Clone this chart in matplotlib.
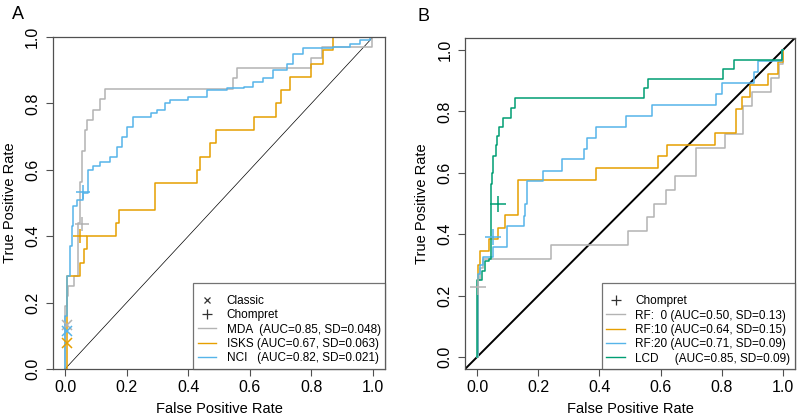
import matplotlib
matplotlib.use("Agg")
import matplotlib.pyplot as plt
from matplotlib.lines import Line2D

plt.rcParams['font.family'] = ['Liberation Sans', 'DejaVu Sans']

GREY = '#B3B3B3'
ORANGE = '#E69F00'
BLUE = '#56B4E9'
GREEN = '#009E73'
FRAME = '#505050'

# ---- panel A : ROC points (x where the curve rises, new TPR) ----
mda_fpr = [0, 0, 0.005, 0.01, 0.03, 0.042, 0.049, 0.056, 0.065, 0.072, 0.09, 0.114, 0.13,
           0.545, 0.558, 0.80, 0.834, 0.996, 1.0]
mda_tpr = [0, 0.19, 0.22, 0.25, 0.28, 0.44, 0.5625, 0.656, 0.72, 0.75, 0.78, 0.8125, 0.84375,
           0.875, 0.906, 0.9375, 0.969, 1.0, 1.0]

isks_fpr = [0, 0.005, 0.049, 0.06, 0.07, 0.166, 0.175, 0.292, 0.428, 0.438,
            0.47, 0.49, 0.615, 0.685, 0.70, 0.73, 0.80, 0.837, 0.87, 1.0]
isks_tpr = [0, 0.28, 0.32, 0.36, 0.40, 0.44, 0.48, 0.56, 0.60, 0.64,
            0.68, 0.72, 0.76, 0.80, 0.84, 0.88, 0.92, 0.96, 1.0, 1.0]

nci_fpr = [0, 0.0, 0.005, 0.016, 0.022, 0.027, 0.038, 0.058, 0.076, 0.09,
           0.114, 0.146, 0.168, 0.184, 0.20, 0.222, 0.28, 0.30, 0.325, 0.34,
           0.40, 0.46, 0.525, 0.58, 0.61, 0.644, 0.676, 0.72, 0.74, 0.774,
           0.87, 0.925, 0.958, 0.99, 1.0]
nci_tpr = [0, 0.16, 0.28, 0.37, 0.43, 0.49, 0.51, 0.53, 0.60, 0.61,
           0.624, 0.64, 0.67, 0.70, 0.73, 0.76, 0.77, 0.78, 0.80, 0.81,
           0.82, 0.84, 0.845, 0.85, 0.865, 0.878, 0.90, 0.92, 0.95, 0.966,
           0.97, 0.98, 0.99, 1.0, 1.0]

# classic / chompret criteria points (fpr, tpr)
classic_a = {'MDA': (0.005, 0.132), 'ISKS': (0.005, 0.079), 'NCI': (0.005, 0.115)}
chompret_a = {'MDA': (0.054, 0.438), 'ISKS': (0.05, 0.40), 'NCI': (0.058, 0.532)}

labels_a = ['MDA  (AUC=0.85, SD=0.048)', 'ISKS (AUC=0.67, SD=0.063)',
            'NCI   (AUC=0.82, SD=0.021)']

# ---- panel B ----
rf0_fpr = [0, 0.003, 0.01, 0.02, 0.242, 0.495, 0.555, 0.578, 0.617, 0.648,
           0.716, 0.81, 0.87, 0.898, 0.961, 0.987, 1.0]
rf0_tpr = [0, 0.25, 0.29, 0.318, 0.364, 0.409, 0.455, 0.50, 0.545, 0.591,
           0.682, 0.727, 0.818, 0.864, 0.909, 0.955, 1.0]

rf10_fpr = [0, 0.002, 0.01, 0.04, 0.068, 0.092, 0.135, 0.39, 0.593, 0.62,
            0.778, 0.846, 0.865, 0.892, 0.952, 0.983, 1.0, 1.0]
rf10_tpr = [0, 0.30, 0.346, 0.385, 0.42, 0.462, 0.577, 0.615, 0.654, 0.692,
            0.731, 0.808, 0.846, 0.885, 0.923, 0.962, 1.0, 1.0]

rf20_fpr = [0, 0.003, 0.01, 0.02, 0.053, 0.097, 0.154, 0.158, 0.162, 0.217,
            0.279, 0.35, 0.358, 0.388, 0.487, 0.571, 0.78, 0.80, 0.906, 0.92,
            0.996, 1.0]
rf20_tpr = [0, 0.27, 0.30, 0.327, 0.357, 0.428, 0.46, 0.50, 0.573, 0.607,
            0.644, 0.677, 0.714, 0.75, 0.786, 0.82, 0.857, 0.893, 0.929, 0.964,
            1.0, 1.0]

lcd_fpr = [0, 0.0, 0.015, 0.026, 0.04, 0.045, 0.048, 0.053, 0.061, 0.066,
           0.072, 0.086, 0.11, 0.124, 0.547, 0.558, 0.805, 0.841, 0.996, 1.0]
lcd_tpr = [0, 0.25, 0.281, 0.3125, 0.32, 0.5625, 0.60, 0.656, 0.69, 0.72,
           0.75, 0.78, 0.8125, 0.84375, 0.875, 0.906, 0.9375, 0.969, 1.0, 1.0]

chompret_b = {'RF0': (0.004, 0.229), 'RF20': (0.053, 0.392), 'LCD': (0.07, 0.50)}

labels_b = ['RF:  0 (AUC=0.50, SD=0.13)', 'RF:10 (AUC=0.64, SD=0.15)',
            'RF:20 (AUC=0.71, SD=0.09)', 'LCD     (AUC=0.85, SD=0.09)']


def style_axes(ax, xlim, ylim):
    ax.set_xlim(*xlim)
    ax.set_ylim(*ylim)
    ticks = [0, 0.2, 0.4, 0.6, 0.8, 1.0]
    ax.set_xticks(ticks)
    ax.set_yticks(ticks)
    ax.set_xticklabels(['%.1f' % t for t in ticks])
    ax.set_yticklabels(['%.1f' % t for t in ticks], rotation=90, va='center')
    ax.tick_params(direction='out', length=5, width=0.8, color=FRAME,
                   labelsize=11.5)
    ax.tick_params(axis='x', pad=3)
    ax.tick_params(axis='y', pad=4)
    for s in ax.spines.values():
        s.set_color(FRAME)
        s.set_linewidth(0.9)
    ax.set_xlabel('False Positive Rate', fontsize=10.5)
    ax.set_ylabel('True Positive Rate', fontsize=10.5)
    ax.xaxis.label.set_va('center')
    ax.yaxis.label.set_va('center')
    ax.yaxis.label.set_ha('center')


def make_legend(ax, handles, labels):
    leg = ax.legend(handles, labels, loc='lower right', borderaxespad=0,
                    fancybox=False, fontsize=8.5, handlelength=1.6,
                    labelspacing=0.2, borderpad=0.4, handletextpad=0.85,
                    title=' ', title_fontsize=4)
    leg.get_frame().set_edgecolor(FRAME)
    leg.get_frame().set_linewidth(0.9)
    return leg


fig = plt.figure(figsize=(8, 4.19), dpi=100)

# panel A
axA = fig.add_axes([0.0659, 0.1193, 0.4158, 0.7924])
axA.plot([0, 1], [0, 1], color='black', lw=0.5)
axA.plot(mda_fpr, mda_tpr, drawstyle='steps-post', color=GREY, lw=1.1)
axA.plot(isks_fpr, isks_tpr, drawstyle='steps-post', color=ORANGE, lw=1.1)
axA.plot(nci_fpr, nci_tpr, drawstyle='steps-post', color=BLUE, lw=1.1)
cols_a = {'MDA': GREY, 'ISKS': ORANGE, 'NCI': BLUE}
for k, (x, y) in classic_a.items():
    axA.plot(x, y, marker='x', ms=7, mew=1.1, color=cols_a[k], ls='none')
for k, (x, y) in chompret_a.items():
    axA.plot(x, y, marker='+', ms=10, mew=1.1, color=cols_a[k], ls='none')
style_axes(axA, (-0.04, 1.04), (0, 1))
axA.xaxis.set_label_coords(0.5, (369 - 409) / 332.0)
axA.yaxis.set_label_coords((10 - 52.7) / 332.6, 0.5)

hA = [Line2D([], [], marker='x', color='#333333', ls='none', ms=5, mew=0.9),
      Line2D([], [], marker='+', color='#333333', ls='none', ms=7, mew=0.9),
      Line2D([], [], color=GREY, lw=1.0),
      Line2D([], [], color=ORANGE, lw=1.0),
      Line2D([], [], color=BLUE, lw=1.0)]
make_legend(axA, hA, ['Classic', 'Chompret'] + labels_a)

# panel B
axB = fig.add_axes([0.581, 0.1186, 0.413, 0.7914])
axB.axline((0, 0), (1, 1), color='black', lw=1.4)
axB.plot(rf0_fpr, rf0_tpr, drawstyle='steps-post', color=GREY, lw=1.1)
axB.plot(rf10_fpr, rf10_tpr, drawstyle='steps-post', color=ORANGE, lw=1.1)
axB.plot(rf20_fpr, rf20_tpr, drawstyle='steps-post', color=BLUE, lw=1.1)
axB.plot(lcd_fpr, lcd_tpr, drawstyle='steps-post', color=GREEN, lw=1.1)
cols_b = {'RF0': GREY, 'RF20': BLUE, 'LCD': GREEN}
for k, (x, y) in chompret_b.items():
    axB.plot(x, y, marker='+', ms=12, mew=1.1, color=cols_b[k], ls='none')
style_axes(axB, (-0.04, 1.04), (-0.04, 1.04))
axB.xaxis.set_label_coords(0.5, (369.3 - 409) / 331.6)
axB.yaxis.set_label_coords((421.7 - 464.8) / 330.4, 0.5)

hB = [Line2D([], [], marker='+', color='#333333', ls='none', ms=7, mew=0.9),
      Line2D([], [], color=GREY, lw=1.0),
      Line2D([], [], color=ORANGE, lw=1.0),
      Line2D([], [], color=BLUE, lw=1.0),
      Line2D([], [], color=GREEN, lw=1.0)]
make_legend(axB, hB, ['Chompret'] + labels_b)

fig.text(0.023, 0.965, 'A', fontsize=13, ha='center', va='center')
fig.text(0.529, 0.96, 'B', fontsize=13, ha='center', va='center')

fig.savefig('out.png', dpi=100)
